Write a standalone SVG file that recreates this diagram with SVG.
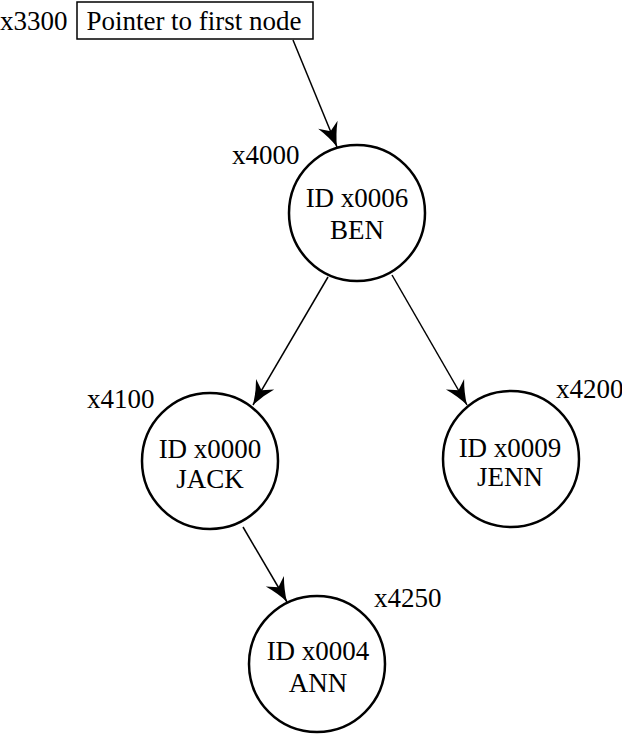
<svg xmlns="http://www.w3.org/2000/svg" width="622" height="734" viewBox="0 0 622 734">
  <style>
    text { font-family: "Liberation Serif", "Times New Roman", serif; font-size: 27px; fill: #000; }
    .node circle { fill: #fff; stroke: #000; stroke-width: 2.5; }
    .mid { text-anchor: middle; }
    .edge { stroke: #000; stroke-width: 1.5; fill: none; marker-end: url(#head); }
  </style>
  <defs>
    <marker id="head" markerUnits="userSpaceOnUse" markerWidth="30" markerHeight="26" viewBox="-26 -13 28 26" refX="0" refY="0" orient="auto">
      <path d="M0,0 Q-12,-3.5 -24,-10.5 L-17,0 L-24,10.5 Q-12,3.5 0,0 Z" fill="#000"/>
    </marker>
  </defs>

  <!-- head pointer -->
  <g id="head-pointer">
    <rect x="77" y="2" width="236" height="37" fill="#fff" stroke="#000" stroke-width="1.5"/>
    <text x="194" y="30" class="mid">Pointer to first node</text>
    <text x="0" y="30">x3300</text>
  </g>

  <!-- links -->
  <g id="connectors">
    <line class="edge" x1="293" y1="40" x2="337" y2="147"/>
    <line class="edge" x1="328" y1="277" x2="253" y2="405"/>
    <line class="edge" x1="392" y1="275" x2="467" y2="405"/>
    <line class="edge" x1="243" y1="527" x2="287" y2="602"/>
  </g>

  <g id="node-ben" class="node">
    <circle cx="357" cy="213" r="68"/>
    <text x="357" y="207" class="mid">ID x0006</text>
    <text x="357" y="239" class="mid">BEN</text>
    <text x="232" y="164">x4000</text>
  </g>

  <g id="node-jack" class="node">
    <circle cx="210" cy="461" r="68"/>
    <text x="210" y="458" class="mid">ID x0000</text>
    <text x="210" y="488" class="mid">JACK</text>
    <text x="87" y="408">x4100</text>
  </g>

  <g id="node-jenn" class="node">
    <circle cx="511" cy="459" r="68"/>
    <text x="510" y="457" class="mid">ID x0009</text>
    <text x="510" y="486" class="mid">JENN</text>
    <text x="556" y="398">x4200</text>
  </g>

  <g id="node-ann" class="node">
    <circle cx="317" cy="664" r="68"/>
    <text x="318" y="660" class="mid">ID x0004</text>
    <text x="318" y="692" class="mid">ANN</text>
    <text x="374" y="607">x4250</text>
  </g>
</svg>
